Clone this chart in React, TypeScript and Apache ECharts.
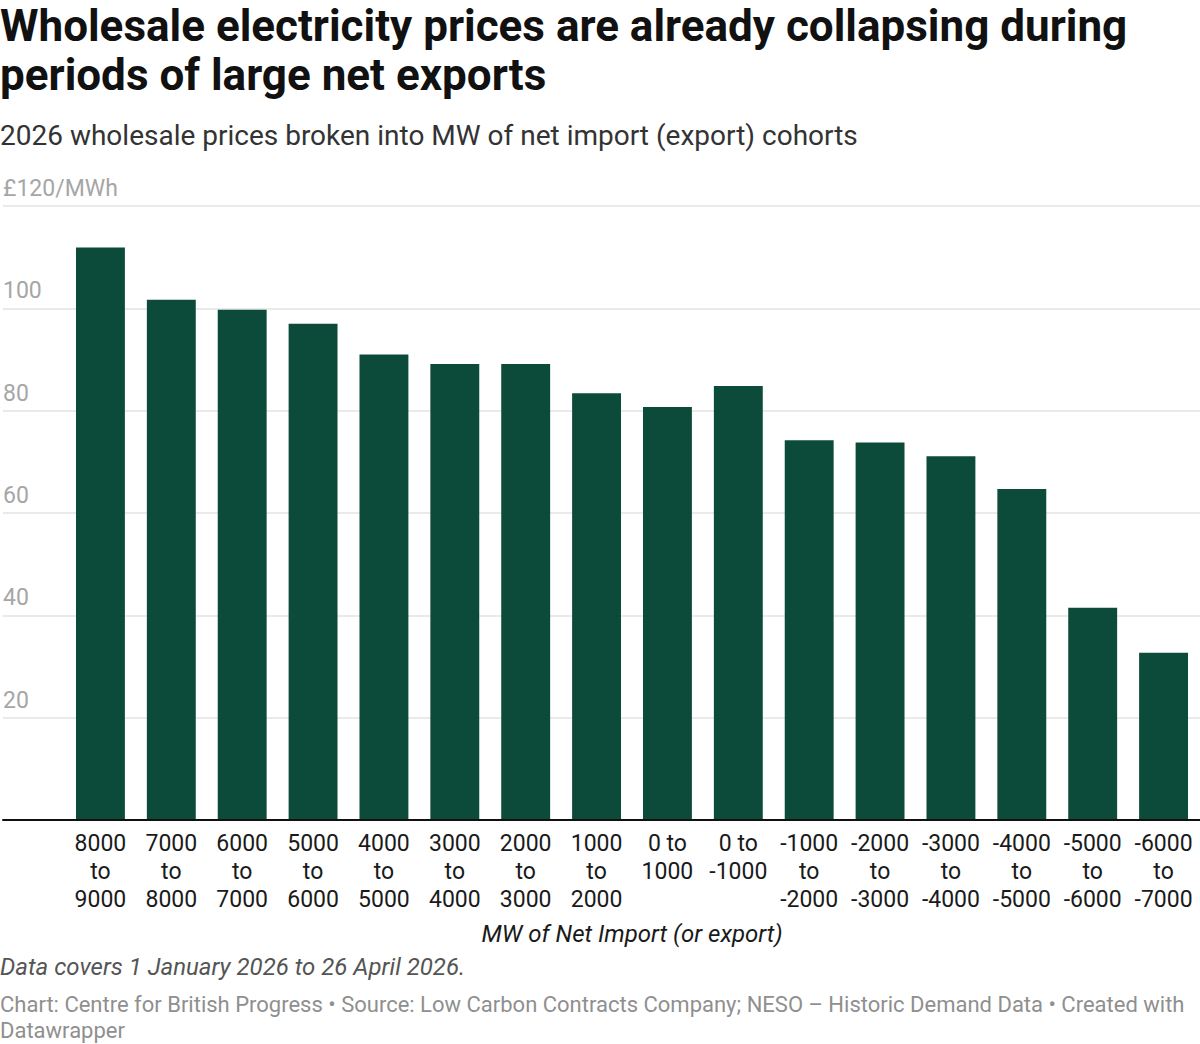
import React, { useEffect, useRef } from "react";
import * as echarts from "echarts";

// Net import (export) cohorts in MW
const cohorts: string[] = [
  "8000\nto\n9000",
  "7000\nto\n8000",
  "6000\nto\n7000",
  "5000\nto\n6000",
  "4000\nto\n5000",
  "3000\nto\n4000",
  "2000\nto\n3000",
  "1000\nto\n2000",
  "0 to\n1000",
  "0 to\n-1000",
  "-1000\nto\n-2000",
  "-2000\nto\n-3000",
  "-3000\nto\n-4000",
  "-4000\nto\n-5000",
  "-5000\nto\n-6000",
  "-6000\nto\n-7000",
];

// Average wholesale price, £/MWh
const prices: number[] = [
  111.9, 101.7, 99.7, 97.0, 91.0, 89.1, 89.1, 83.4, 80.7, 84.8, 74.2, 73.8, 71.1, 64.7, 41.5, 32.7,
];

const yTicks: number[] = [0, 20, 40, 60, 80, 100, 120];

const TITLE = "Wholesale electricity prices are already collapsing during\nperiods of large net exports";
const SUBTITLE = "2026 wholesale prices broken into MW of net import (export) cohorts";
const NOTE = "Data covers 1 January 2026 to 26 April 2026.";
const SOURCE =
  "Chart: Centre for British Progress • Source: Low Carbon Contracts Company; NESO – Historic Demand Data • Created with\nDatawrapper";

const FONT = "Roboto, 'Noto Sans', sans-serif";
const BAR = "#0c4a39";

export default function App() {
  const ref = useRef<HTMLDivElement>(null);

  useEffect(() => {
    document.body.style.margin = "0";
    if (!ref.current) return;
    const chart = echarts.init(ref.current, undefined, { renderer: "svg" });
    const yMax = yTicks[yTicks.length - 1];
    const step = yTicks[1] - yTicks[0];

    chart.setOption({
      animation: false,
      backgroundColor: "#ffffff",
      textStyle: { fontFamily: FONT },
      grid: [
        { left: -3, right: 0, top: 206, bottom: 224, containLabel: false },
        { left: 65, right: 1, top: 206, bottom: 224, containLabel: false },
      ],
      xAxis: [
        {
          gridIndex: 0,
          type: "category",
          data: [""],
          z: 10,
          axisLine: { show: true, lineStyle: { color: "#111111", width: 2 } },
          axisTick: { show: false },
          axisLabel: { show: false },
        },
        {
          gridIndex: 1,
          type: "category",
          data: cohorts,
          axisLine: { show: false },
          axisTick: { show: false },
          axisLabel: {
            interval: 0,
            fontFamily: FONT,
            fontSize: 23,
            lineHeight: 28,
            color: "#1a1a1a",
            margin: 9,
            align: "center",
          },
          name: "MW of Net Import (or export)",
          nameLocation: "middle",
          nameGap: 102,
          nameTextStyle: {
            fontFamily: FONT,
            fontSize: 24,
            fontStyle: "italic",
            color: "#1a1a1a",
          },
        },
      ],
      yAxis: [
        {
          gridIndex: 0,
          type: "value",
          min: 0,
          max: yMax,
          interval: step,
          axisLine: { show: false },
          axisTick: { show: false },
          splitLine: { show: true, lineStyle: { color: "#e3e3e3", width: 1.5 } },
          axisLabel: {
            inside: true,
            margin: 0,
            verticalAlign: "bottom",
            padding: [0, 0, 6, 0],
            fontFamily: FONT,
            fontSize: 23,
            color: "#a6a6a6",
            formatter: (v: number) => (v === 0 ? "" : v === yMax ? `£${v}/MWh` : `${v}`),
          },
        },
        {
          gridIndex: 1,
          type: "value",
          min: 0,
          max: yMax,
          interval: step,
          show: false,
          splitLine: { show: false },
        },
      ],
      series: [
        {
          type: "bar",
          xAxisIndex: 1,
          yAxisIndex: 1,
          data: prices,
          barCategoryGap: "31%",
          itemStyle: { color: BAR },
        },
      ],
      graphic: [
        {
          type: "text",
          left: 0,
          top: 1,
          style: {
            text: TITLE,
            fontFamily: FONT,
            fontSize: 44,
            fontWeight: "bold",
            lineHeight: 49,
            fill: "#111111",
          },
        },
        {
          type: "text",
          left: 0,
          top: 121,
          style: {
            text: SUBTITLE,
            fontFamily: FONT,
            fontSize: 28,
            fill: "#333333",
          },
        },
        {
          type: "text",
          left: 0,
          top: 955,
          style: {
            text: NOTE,
            fontFamily: FONT,
            fontSize: 24,
            fontStyle: "italic",
            fill: "#555555",
          },
        },
        {
          type: "text",
          left: 0,
          top: 991,
          style: {
            text: SOURCE,
            fontFamily: FONT,
            fontSize: 22,
            lineHeight: 26,
            fill: "#8f8f8f",
          },
        },
      ],
    });

    return () => chart.dispose();
  }, []);

  return <div ref={ref} style={{ width: 1200, height: 1044 }} />;
}
